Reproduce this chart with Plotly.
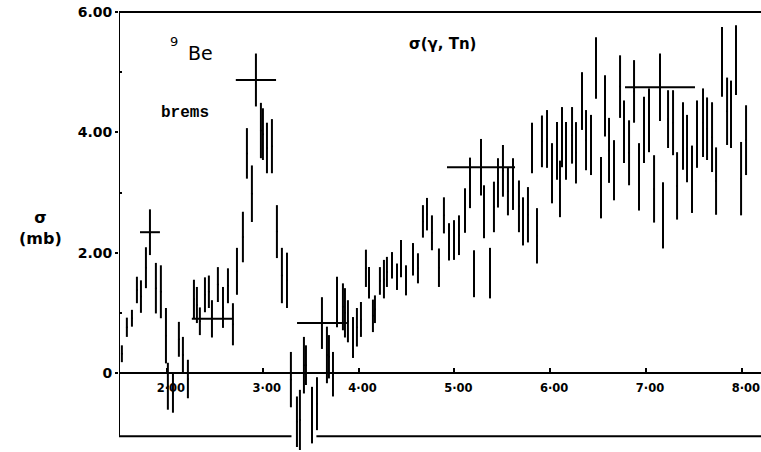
import plotly.graph_objects as go

# photon energy (MeV) , cross section (mb) and half error (mb) of every bremsstrahlung point
energy = [1.530, 1.582, 1.635, 1.687, 1.729, 1.781, 1.885, 1.937, 1.990, 2.010,
          2.063, 2.125, 2.167, 2.219, 2.282, 2.313, 2.344, 2.397, 2.438, 2.532,
          2.585, 2.637, 2.689, 2.731, 2.793, 2.835, 2.887, 2.981, 3.002, 3.044,
          3.096, 3.148, 3.200, 3.253, 3.294, 3.357, 3.388, 3.430, 3.451, 3.514,
          3.566, 3.670, 3.691, 3.733, 3.775, 3.837, 3.858, 3.889, 3.942, 3.983,
          4.025, 4.077, 4.109, 4.150, 4.171, 4.223, 4.265, 4.296, 4.349, 4.401,
          4.443, 4.495, 4.568, 4.620, 4.672, 4.714, 4.766, 4.839, 4.891, 4.944,
          4.996, 5.048, 5.111, 5.163, 5.205, 5.309, 5.372, 5.413, 5.455, 5.507,
          5.559, 5.612, 5.674, 5.716, 5.768, 5.810, 5.862, 5.914, 5.967, 6.019,
          6.071, 6.102, 6.123, 6.165, 6.228, 6.269, 6.332, 6.374, 6.426, 6.478,
          6.530, 6.572, 6.614, 6.666, 6.729, 6.770, 6.823, 6.875, 6.927, 6.979,
          7.031, 7.084, 7.177, 7.230, 7.282, 7.324, 7.386, 7.428, 7.480, 7.532,
          7.595, 7.637, 7.689, 7.731, 7.793, 7.846, 7.887, 7.939, 7.992, 8.044]
sigma = [0.32, 0.76, 0.91, 1.38, 1.27, 1.75, 1.41, 1.35, 0.62, -0.22,
         -0.33, 0.56, 0.30, -0.10, 1.23, 1.13, 0.86, 1.30, 1.35, 1.47,
         1.09, 1.45, 0.81, 1.69, 2.26, 3.65, 2.98, 4.03, 3.97, 3.74,
         3.77, 2.35, 1.62, 1.54, -0.11, -0.81, -0.78, 0.13, 0.13, -0.70,
         -0.51, 0.30, 0.27, -0.02, 1.18, 1.10, 1.00, 0.86, 0.59, 0.76,
         0.89, 1.74, 1.50, 0.95, 1.06, 1.53, 1.56, 1.68, 1.79, 1.60,
         1.90, 1.54, 1.89, 1.74, 2.52, 2.64, 2.33, 1.75, 2.62, 2.18,
         2.21, 2.29, 2.70, 3.16, 1.65, 2.68, 1.66, 2.76, 3.16, 3.36,
         3.02, 3.14, 2.77, 2.52, 2.63, 3.74, 2.28, 3.85, 3.89, 3.32,
         3.69, 3.06, 3.92, 3.69, 3.95, 3.66, 4.52, 3.87, 3.79, 5.07,
         3.08, 4.44, 3.70, 3.37, 4.76, 4.01, 3.66, 4.68, 3.26, 4.04,
         4.20, 3.06, 2.62, 4.22, 4.16, 3.11, 3.94, 3.73, 3.22, 3.97,
         4.16, 4.06, 3.92, 3.19, 5.17, 4.35, 4.30, 5.20, 3.23, 3.87]
err = [0.14, 0.16, 0.14, 0.22, 0.27, 0.34, 0.42, 0.44, 0.46, 0.39,
       0.33, 0.29, 0.30, 0.32, 0.32, 0.30, 0.23, 0.29, 0.27, 0.29,
       0.34, 0.29, 0.35, 0.39, 0.42, 0.42, 0.47, 0.46, 0.43, 0.42,
       0.45, 0.44, 0.46, 0.46, 0.46, 0.42, 0.50, 0.47, 0.33, 0.47,
       0.44, 0.47, 0.36, 0.37, 0.42, 0.39, 0.41, 0.35, 0.34, 0.32,
       0.29, 0.31, 0.26, 0.27, 0.23, 0.23, 0.32, 0.25, 0.22, 0.22,
       0.31, 0.25, 0.27, 0.25, 0.27, 0.27, 0.29, 0.32, 0.30, 0.31,
       0.33, 0.33, 0.37, 0.42, 0.39, 0.44, 0.42, 0.42, 0.41, 0.43,
       0.40, 0.43, 0.43, 0.40, 0.46, 0.42, 0.46, 0.43, 0.48, 0.50,
       0.48, 0.47, 0.50, 0.48, 0.47, 0.51, 0.48, 0.50, 0.50, 0.51,
       0.51, 0.51, 0.54, 0.50, 0.52, 0.52, 0.54, 0.52, 0.56, 0.55,
       0.53, 0.56, 0.55, 0.48, 0.54, 0.56, 0.56, 0.56, 0.56, 0.56,
       0.57, 0.52, 0.58, 0.56, 0.58, 0.56, 0.56, 0.58, 0.61, 0.58]

# averaged points drawn as crosses (energy bin half width, error)
cross_energy = [1.823, 2.470, 2.929, 3.618, 5.278, 7.146]
cross_sigma = [2.34, 0.90, 4.87, 0.83, 3.42, 4.75]
cross_dE = [0.104, 0.21, 0.21, 0.26, 0.355, 0.365]
cross_err = [0.38, 0.31, 0.44, 0.43, 0.47, 0.56]

x_ticks = [2, 3, 4, 5, 6, 7, 8]
x_ticktext = ["2·00", "3·00", "4·00", "5·00", "6·00", "7·00", "8·00"]
y_ticks = [0, 2, 4, 6]
y_ticktext = ["0", "2.00", "4.00", "6.00"]

X_MIN, X_MAX = 1.5, 8.2
Y_MIN, Y_MAX = -1.313, 6.0
Y_BOX = -1.05

fig = go.Figure()
fig.add_trace(go.Scatter(
    x=energy, y=sigma, mode="markers",
    marker=dict(size=2, color="black"),
    error_y=dict(type="data", array=err, symmetric=True, width=0,
                 thickness=2, color="black"),
    cliponaxis=False, showlegend=False, hoverinfo="skip"))
fig.add_trace(go.Scatter(
    x=cross_energy, y=cross_sigma, mode="markers",
    marker=dict(size=2, color="black"),
    error_x=dict(type="data", array=cross_dE, symmetric=True, width=0,
                 thickness=2, color="black"),
    error_y=dict(type="data", array=cross_err, symmetric=True, width=0,
                 thickness=2, color="black"),
    cliponaxis=False, showlegend=False, hoverinfo="skip"))

line = dict(color="black", width=2)
shapes = [
    dict(type="line", xref="x", yref="paper", x0=X_MIN, x1=X_MAX, y0=1, y1=1, line=line),
    dict(type="line", xref="x", yref="y", x0=X_MIN, x1=X_MIN, y0=Y_BOX, y1=Y_MAX, line=line),
    dict(type="line", xref="x", yref="y", x0=X_MIN, x1=3.30, y0=Y_BOX, y1=Y_BOX, line=line),
    dict(type="line", xref="x", yref="y", x0=3.56, x1=X_MAX, y0=Y_BOX, y1=Y_BOX, line=line),
]

bold = dict(family="DejaVu Sans", color="black", weight="bold")
fig.update_layout(
    width=761, height=452,
    margin=dict(l=119, r=0, t=12, b=0, autoexpand=False),
    paper_bgcolor="white", plot_bgcolor="white",
    shapes=shapes,
    xaxis=dict(range=[X_MIN, X_MAX], anchor="free",
               position=(0 - Y_MIN) / (Y_MAX - Y_MIN), automargin=False,
               showline=True, linecolor="black", linewidth=2,
               showgrid=False, zeroline=False,
               tickvals=x_ticks, ticktext=x_ticktext,
               ticks="inside", ticklen=4, tickwidth=2, tickcolor="black",
               ticklabelshift=4, ticklabelstandoff=4, ticklabeloverflow="allow",
               tickfont=dict(size=11.5, **bold)),
    yaxis=dict(range=[Y_MIN, Y_MAX], showline=False, showgrid=False,
               automargin=False, ticklabeloverflow="allow",
               zeroline=False, tickvals=y_ticks, ticktext=y_ticktext,
               ticks="outside", ticklen=3, tickwidth=2, tickcolor="black",
               tickfont=dict(size=14, **bold),
               minor=dict(tickvals=[1, 3, 5], ticks="inside", ticklen=3,
                          tickwidth=2, tickcolor="black")),
)

def px(xp):
    return (xp - 119) / 642.0

def py(yp):
    return (452 - yp) / 440.0

ann = [
    dict(x=px(40), y=py(228), text="σ<br>(mb)", font=dict(size=16, **bold)),
    dict(x=px(174), y=py(41), text="9", font=dict(size=13, family="DejaVu Sans", color="black")),
    dict(x=px(200), y=py(53), text="Be", font=dict(size=19, family="DejaVu Sans", color="black")),
    dict(x=px(185), y=py(113), text="brems",
         font=dict(size=16, family="Liberation Mono", color="black", weight="bold")),
    dict(x=px(442), y=py(44), text="σ(γ, Tn)", font=dict(size=15, **bold)),
]
for a in ann:
    a.update(xref="paper", yref="paper", showarrow=False, xanchor="center", yanchor="middle")
fig.update_layout(annotations=ann)

# remove the browser's default 8px page margin so the figure fills the window
fig.write_html("out.html", config={"displayModeBar": False},
               post_script="document.body.style.margin='0';")
